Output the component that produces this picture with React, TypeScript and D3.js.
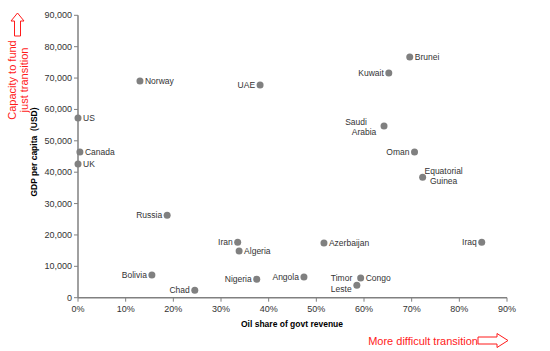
import React from "react";
import * as d3 from "d3";

const countries = ["Brunei","Kuwait","Norway","UAE","US","Saudi Arabia","Oman","Canada","UK","Equatorial Guinea","Russia","Iran","Iraq","Azerbaijan","Algeria","Bolivia","Congo","Angola","Nigeria","Timor Leste","Chad"];
const oilShare = [0.696,0.652,0.130,0.382,0.0,0.642,0.706,0.004,0.0,0.723,0.187,0.335,0.847,0.516,0.338,0.155,0.593,0.474,0.375,0.585,0.245];
const gdpPerCapita = [76700,71600,69100,67800,57300,54700,46400,46400,42600,38400,26300,17700,17700,17400,14900,7200,6300,6600,5900,4000,2400];
const labelSide = ["r","l","r","l","r","l","l","r","r","r","l","l","l","r","r","l","r","l","l","l","l"];
const xTicks = [0,0.1,0.2,0.3,0.4,0.5,0.6,0.7,0.8,0.9];
const yTicks = [0,10000,20000,30000,40000,50000,60000,70000,80000,90000];

export default function App() {
  const W = 550, H = 351;
  const x = d3.scaleLinear().domain([0, 0.9]).range([78, 507]);
  const y = d3.scaleLinear().domain([0, 90000]).range([297.7, 15.3]);
  const fmtY = d3.format(",");
  const fmtX = d3.format(".0%");
  const font = "Liberation Sans, Arial, sans-serif";
  const gray = "#808080";
  const red = "#ff1a1a";
  const fs = 8.5;

  return (
    <svg width={W} height={H} style={{ position: "absolute", left: 0, top: 0, background: "#fff" }} fontFamily={font}>
      <line x1={x(0)} x2={x(0.9)} y1={y(0)} y2={y(0)} stroke={gray} strokeWidth={1.5} />
      <line x1={x(0)} x2={x(0)} y1={y(0)} y2={y(90000)} stroke={gray} strokeWidth={1.5} />
      {xTicks.map((t) => (
        <g key={"x" + t}>
          <line x1={x(t)} x2={x(t)} y1={y(0)} y2={y(0) + 4} stroke={gray} strokeWidth={1} />
          <text x={x(t)} y={y(0) + 14} textAnchor="middle" fontSize={9} fill="#333">{fmtX(t)}</text>
        </g>
      ))}
      {yTicks.map((t) => (
        <g key={"y" + t}>
          <line x1={x(0) - 4} x2={x(0)} y1={y(t)} y2={y(t)} stroke={gray} strokeWidth={1} />
          <text x={x(0) - 6} y={y(t) + 3} textAnchor="end" fontSize={9} fill="#333">{fmtY(t)}</text>
        </g>
      ))}
      <text x={292} y={327} textAnchor="middle" fontSize={8.5} fontWeight="bold" fill="#000">Oil share of govt revenue</text>
      <text transform={`translate(37,152) rotate(-90)`} textAnchor="middle" fontSize={8.5} fontWeight="bold" fill="#000" style={{ whiteSpace: "pre" }}>GDP per capita  (USD)</text>
      <text transform={`translate(16,80) rotate(-90)`} textAnchor="middle" fontSize={11} fill={red}>Capacity to fund</text>
      <text transform={`translate(28,80) rotate(-90)`} textAnchor="middle" fontSize={11} fill={red}>just transition</text>
      <path d="M17.5,13 L24,21 L20.5,21 L20.5,36 L14.5,36 L14.5,21 L11,21 Z" fill="none" stroke={red} strokeWidth={1} />
      <text x={478} y={345} textAnchor="end" fontSize={11} fill={red}>More difficult transition</text>
      <path d="M478,337 L497,337 L497,333.5 L508,340.5 L497,347.5 L497,344 L478,344 Z" fill="none" stroke={red} strokeWidth={1} />
      {countries.map((c, i) => {
        const cx = x(oilShare[i]);
        const cy = y(gdpPerCapita[i]);
        const right = labelSide[i] === "r";
        let lines: any;
        if (c === "Saudi Arabia") {
          lines = (
            <g>
              <text x={cx - 28} y={cy - 1} textAnchor="middle" fontSize={fs} fill="#333">Saudi</text>
              <text x={cx - 20} y={cy + 9} textAnchor="middle" fontSize={fs} fill="#333">Arabia</text>
            </g>
          );
        } else if (c === "Equatorial Guinea") {
          lines = (
            <g>
              <text x={cx + 21} y={cy - 3} textAnchor="middle" fontSize={fs} fill="#333">Equatorial</text>
              <text x={cx + 21} y={cy + 7} textAnchor="middle" fontSize={fs} fill="#333">Guinea</text>
            </g>
          );
        } else if (c === "Timor Leste") {
          lines = (
            <g>
              <text x={cx - 26} y={cy - 4} textAnchor="start" fontSize={fs} fill="#333">Timor</text>
              <text x={cx - 26} y={cy + 7} textAnchor="start" fontSize={fs} fill="#333">Leste</text>
            </g>
          );
        } else {
          lines = <text x={right ? cx + 5 : cx - 5} y={cy + 3} textAnchor={right ? "start" : "end"} fontSize={fs} fill="#333">{c}</text>;
        }
        return (
          <g key={c}>
            <circle cx={cx} cy={cy} r={3.5} fill={gray} />
            {lines}
          </g>
        );
      })}
    </svg>
  );
}
